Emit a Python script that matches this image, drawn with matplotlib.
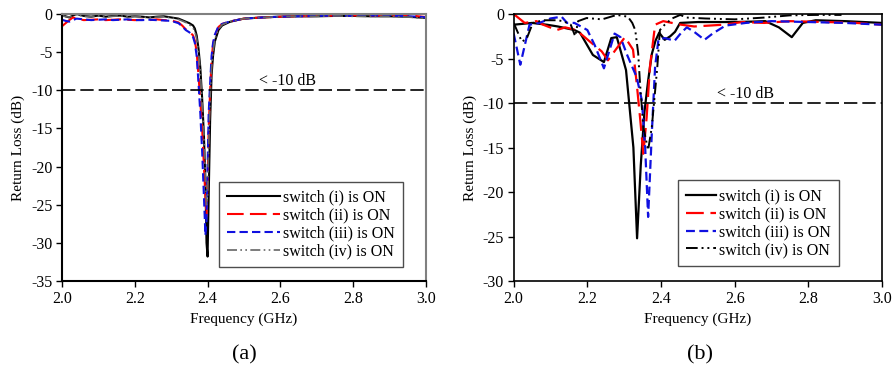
import matplotlib
matplotlib.use("Agg")
import matplotlib.pyplot as plt

plt.rcParams['font.family'] = ['Liberation Serif', 'DejaVu Serif']
plt.rcParams['axes.unicode_minus'] = False

# ---- panel (a) data ----
freq_a = [2.00, 2.01, 2.02, 2.03, 2.04, 2.06, 2.08, 2.10, 2.12, 2.14, 2.16, 2.18,
          2.20, 2.22, 2.24, 2.26, 2.28, 2.30, 2.32, 2.33, 2.34, 2.35, 2.36, 2.365,
          2.37, 2.375, 2.38, 2.385, 2.39, 2.394, 2.397, 2.40, 2.403, 2.407, 2.411,
          2.415, 2.42, 2.43, 2.44, 2.46, 2.48, 2.50, 2.55, 2.60, 2.65, 2.70, 2.75,
          2.80, 2.85, 2.90, 2.95, 2.98, 3.00]
a_sw1 = [-0.1, -0.3, -0.45, -0.2, 0.0, -0.25, -0.35, -0.2, -0.35, -0.25, -0.2, -0.35,
         -0.3, -0.35, -0.45, -0.35, -0.3, -0.45, -0.6, -0.8, -1.0, -1.2, -1.5, -1.9,
         -2.8, -4.5, -7.0, -11.0, -16.0, -22.0, -30.0, -31.8, -24.0, -14.0, -8.0,
         -5.5, -3.6, -2.1, -1.5, -1.05, -0.8, -0.6, -0.45, -0.35, -0.3, -0.3, -0.25,
         -0.25, -0.3, -0.3, -0.35, -0.45, -0.5]
a_sw2 = [-1.6, -1.2, -0.8, -0.45, -0.6, -0.8, -0.75, -0.7, -0.8, -0.75, -0.7, -0.75,
         -0.8, -0.75, -0.8, -0.7, -0.8, -0.85, -1.1, -1.5, -2.0, -2.3, -2.8, -3.5,
         -5.0, -8.0, -11.5, -15.0, -20.0, -24.0, -26.5, -22.0, -15.0, -10.0, -6.0,
         -4.0, -2.8, -1.7, -1.3, -1.0, -0.8, -0.6, -0.45, -0.35, -0.3, -0.25, -0.2,
         -0.2, -0.2, -0.25, -0.15, -0.3, -0.4]
a_sw3 = [-0.75, -0.9, -1.0, -0.8, -0.6, -0.7, -0.8, -0.75, -0.7, -0.8, -0.75, -0.7,
         -0.8, -0.8, -0.75, -0.8, -0.85, -0.9, -1.2, -1.6, -2.1, -2.4, -3.0, -3.8,
         -5.5, -9.0, -13.0, -18.0, -24.0, -29.0, -27.0, -20.0, -13.0, -9.0, -5.5,
         -3.8, -2.7, -1.6, -1.3, -1.0, -0.8, -0.6, -0.45, -0.35, -0.3, -0.25, -0.2,
         -0.25, -0.2, -0.2, -0.3, -0.35, -0.45]
a_sw4 = [-0.2, -0.35, -0.4, -0.25, -0.1, -0.3, -0.35, -0.25, -0.35, -0.3, -0.25, -0.35,
         -0.3, -0.4, -0.45, -0.4, -0.35, -0.5, -0.7, -0.9, -1.1, -1.4, -1.8, -2.3,
         -3.2, -5.0, -7.5, -11.5, -16.0, -21.0, -25.0, -24.0, -17.0, -11.0, -7.0,
         -5.0, -3.3, -2.0, -1.4, -1.0, -0.8, -0.6, -0.45, -0.35, -0.3, -0.3, -0.25,
         -0.3, -0.3, -0.3, -0.4, -0.5, -0.55]

# ---- panel (b) data ----
b_f1 = [2.00, 2.05, 2.09, 2.12, 2.165, 2.18, 2.215, 2.245, 2.265, 2.28, 2.305, 2.325,
        2.335, 2.345, 2.355, 2.365, 2.375, 2.385, 2.395, 2.41, 2.425, 2.438, 2.452,
        2.50, 2.55, 2.60, 2.65, 2.683, 2.72, 2.755, 2.785, 2.82, 2.90, 3.00]
b_sw1 = [-1.2, -1.0, -1.2, -1.4, -1.8, -2.1, -4.6, -5.4, -2.7, -2.6, -6.3, -15.0,
         -25.2, -17.0, -11.0, -7.5, -4.5, -3.0, -2.1, -2.9, -2.5, -2.0, -1.0,
         -0.9, -0.9, -0.9, -0.85, -0.8, -1.5, -2.6, -1.0, -0.7, -0.8, -1.0]
b_f2 = [2.00, 2.03, 2.062, 2.08, 2.117, 2.14, 2.17, 2.207, 2.239, 2.256, 2.27, 2.302,
        2.324, 2.334, 2.343, 2.352, 2.361, 2.37, 2.384, 2.406, 2.43, 2.455, 2.49,
        2.53, 2.57, 2.62, 2.68, 2.75, 2.85, 2.93, 3.00]
b_sw2 = [0.0, -1.0, -0.8, -1.2, -1.8, -1.5, -1.8, -3.1, -4.2, -5.2, -4.4, -2.6,
         -4.0, -7.8, -11.6, -15.7, -11.6, -5.9, -1.2, -0.8, -1.0, -1.2, -1.4,
         -1.3, -1.2, -0.9, -1.0, -0.8, -0.9, -1.0, -1.2]
b_f3 = [2.00, 2.018, 2.043, 2.07, 2.10, 2.13, 2.145, 2.165, 2.20, 2.22, 2.245, 2.274,
        2.29, 2.307, 2.334, 2.348, 2.357, 2.365, 2.375, 2.384, 2.393, 2.41, 2.437,
        2.455, 2.47, 2.49, 2.518, 2.54, 2.575, 2.63, 2.70, 2.80, 2.90, 3.00]
b_sw3 = [-2.2, -5.7, -1.2, -1.0, -0.5, -0.3, -1.0, -1.0, -1.8, -3.5, -6.1, -2.2,
         -2.6, -4.5, -7.1, -9.7, -15.0, -22.8, -13.4, -5.9, -2.9, -2.7, -3.0,
         -2.1, -1.5, -2.0, -2.9, -2.2, -1.3, -1.0, -0.8, -0.9, -1.0, -1.2]
b_f4 = [2.00, 2.022, 2.035, 2.052, 2.08, 2.117, 2.135, 2.155, 2.167, 2.175, 2.198,
        2.24, 2.28, 2.31, 2.322, 2.33, 2.338, 2.343, 2.352, 2.365, 2.375, 2.39,
        2.397, 2.41, 2.43, 2.452, 2.47, 2.52, 2.60, 2.68, 2.75, 2.82, 2.89]
b_sw4 = [-1.0, -3.1, -2.8, -1.0, -0.7, -0.7, -0.8, -1.2, -2.5, -0.8, -0.45,
         -0.6, -0.1, -0.3, -1.0, -1.8, -4.4, -7.8, -12.7, -15.3, -12.7, -5.9,
         -1.8, -1.2, -0.5, -0.1, -0.4, -0.5, -0.6, -0.4, -0.15, -0.1, -0.1]

labels = ['switch (i) is ON', 'switch (ii) is ON', 'switch (iii) is ON', 'switch (iv) is ON']
x_ticks = [2.0, 2.2, 2.4, 2.6, 2.8, 3.0]

fig = plt.figure(figsize=(8.96, 3.70), dpi=100)
ax1 = fig.add_axes([0.0692, 0.2405, 0.4062, 0.7216])
ax2 = fig.add_axes([0.5733, 0.2405, 0.4111, 0.7216])


def style_axes(ax, ymin, spine_color, spine_lw):
    ax.set_xlim(2.0, 3.0)
    ax.set_ylim(ymin, 0)
    ax.set_xticks(x_ticks)
    ax.set_xticklabels(['%.1f' % t for t in x_ticks])
    ax.set_yticks(range(ymin, 1, 5))
    ax.tick_params(direction='out', length=4, width=1, labelsize=11.5,
                   top=False, right=False, pad=3)
    for s in ax.spines.values():
        s.set_color(spine_color)
        s.set_linewidth(spine_lw)
    ax.spines['left'].set_color('black')
    ax.spines['bottom'].set_color('black')
    ax.set_xlabel('Frequency (GHz)', fontsize=11, labelpad=4)
    ax.set_ylabel('Return Loss (dB)', fontsize=11, labelpad=4)
    ax.axhline(-10, color='black', lw=1.2, dashes=(8, 3))


# panel (a)
ax1.plot(freq_a, a_sw1, color='black', lw=1.5, label=labels[0])
ax1.plot(freq_a, a_sw2, color='red', lw=1.5, dashes=(8, 3), label=labels[1])
ax1.plot(freq_a, a_sw3, color='#1010e0', lw=1.5, dashes=(4, 2), label=labels[2])
ax1.plot(freq_a, a_sw4, color='0.4', lw=1.2, dashes=(6, 2, 1, 2, 1, 2), label=labels[3])
style_axes(ax1, -35, '0.5', 1.5)
ax1.text(2.54, -8.8, '< -10 dB', fontsize=11.5, va='center')
leg1 = ax1.legend(loc='lower right', bbox_to_anchor=(0.936, 0.051), fontsize=11.5,
                  handlelength=3.3, labelspacing=0.12, handletextpad=0.2,
                  borderpad=0.5, fancybox=False, framealpha=1, borderaxespad=0)
leg1.get_frame().set_edgecolor('0.3')
leg1.get_frame().set_linewidth(1.0)

# panel (b)
ax2.plot(b_f1, b_sw1, color='black', lw=1.6, label=labels[0])
ax2.plot(b_f2, b_sw2, color='red', lw=1.6, dashes=(8, 3), label=labels[1])
ax2.plot(b_f3, b_sw3, color='#1010e0', lw=1.6, dashes=(4, 2), label=labels[2])
ax2.plot(b_f4, b_sw4, color='black', lw=1.4, dashes=(6, 2, 1, 2, 1, 2), label=labels[3])
style_axes(ax2, -30, 'black', 1.2)
ax2.text(2.552, -9.0, '< -10 dB', fontsize=11.5, va='center')
leg2 = ax2.legend(loc='lower right', bbox_to_anchor=(0.883, 0.056), fontsize=11.5,
                  handlelength=1.9, labelspacing=0.12, handletextpad=0.2,
                  borderpad=0.5, fancybox=False, framealpha=1, borderaxespad=0)
leg2.get_frame().set_edgecolor('0.3')
leg2.get_frame().set_linewidth(1.0)

fig.text(244 / 896, 1 - 355 / 370, '(a)', fontsize=16, ha='center', va='center')
fig.text(700 / 896, 1 - 355 / 370, '(b)', fontsize=16, ha='center', va='center')

fig.savefig('out.png', dpi=100)
